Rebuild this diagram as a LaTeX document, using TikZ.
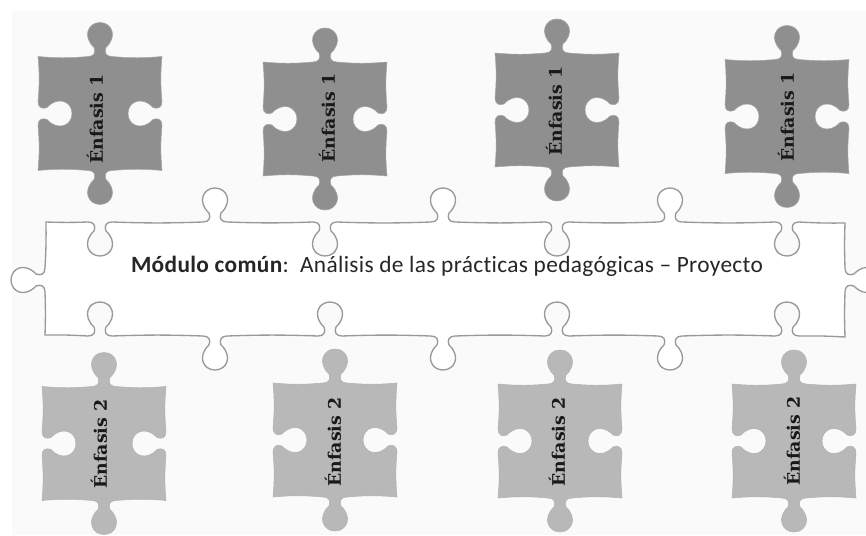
\documentclass[tikz,border=0pt]{standalone}
\usepackage{fontspec}
\setmainfont{DejaVu Serif}
\newfontfamily\calibri[Ligatures=NoCommon, LetterSpace=1.5]{Carlito}
\newcommand{\hnotch}[4]{% x, edge y, bulge, travel
  to[edge] ({#1-(#4)*12},{#2})
  .. controls ({#1-(#4)*6},{#2}) and ({#1-(#4)*4},{#2+(#3)*4}) .. ({#1-(#4)*6},{#2+(#3)*9})
  .. controls ({#1-(#4)*18},{#2+(#3)*20}) and ({#1-(#4)*12},{#2+(#3)*34}) .. ({#1},{#2+(#3)*34})
  .. controls ({#1+(#4)*12},{#2+(#3)*34}) and ({#1+(#4)*18},{#2+(#3)*20}) .. ({#1+(#4)*6},{#2+(#3)*9})
  .. controls ({#1+(#4)*4},{#2+(#3)*4}) and ({#1+(#4)*6},{#2}) .. ({#1+(#4)*12},{#2})}
\newcommand{\vnotch}[4]{% y, edge x, bulge, travel
  to[edge] ({#2},{#1-(#4)*12})
  .. controls ({#2},{#1-(#4)*6}) and ({#2+(#3)*4},{#1-(#4)*4}) .. ({#2+(#3)*9},{#1-(#4)*6})
  .. controls ({#2+(#3)*20},{#1-(#4)*18}) and ({#2+(#3)*34},{#1-(#4)*12}) .. ({#2+(#3)*34},{#1})
  .. controls ({#2+(#3)*34},{#1+(#4)*12}) and ({#2+(#3)*20},{#1+(#4)*18}) .. ({#2+(#3)*9},{#1+(#4)*6})
  .. controls ({#2+(#3)*4},{#1+(#4)*4}) and ({#2},{#1+(#4)*6}) .. ({#2},{#1+(#4)*12})}
\tikzset{
  edge/.style={bend right=5},
  strip/.style={draw=gray!80, line width=1pt, fill=white, edge/.style={bend right=2}},
  pieceA/.style={fill=gray!88, draw=gray!70},
  pieceB/.style={fill=gray!56, draw=gray!60},
  lbl/.style={rotate=90, inner sep=0pt, text=black!90, font=\bfseries\fontsize{13}{15}\selectfont},
  piece/.pic={
    \path[pic actions] (-62,-57) \hnotch{0}{-57}{-1}{1} to[edge] (62,-57)
      \vnotch{0}{62}{-1}{1} to[edge] (62,57)
      \hnotch{0}{57}{1}{-1} to[edge] (-62,57)
      \vnotch{0}{-62}{1}{-1} to[edge] cycle;
  }
}

\begin{document}
\begin{tikzpicture}[x=0.75pt, y=-0.75pt]
  \useasboundingbox (0,0) rectangle (866,535);
  \clip (0,0) rectangle (866,535);
  \fill[white] (0,0) rectangle (866,535);
  \fill[gray!4] (12,10) rectangle (866,535);
  % common module
  \draw[strip] (46,222) \hnotch{100}{222}{1}{1} \hnotch{215}{222}{-1}{1} \hnotch{325}{222}{1}{1}
    \hnotch{443}{222}{-1}{1} \hnotch{557}{222}{1}{1} \hnotch{670}{222}{-1}{1} \hnotch{787}{222}{1}{1}
    to[edge] (845,223) \vnotch{280}{845}{1}{1} to[edge] (845,337)
    \hnotch{787}{336}{-1}{-1} \hnotch{670}{336}{1}{-1} \hnotch{557}{336}{-1}{-1} \hnotch{443}{336}{1}{-1}
    \hnotch{330}{336}{-1}{-1} \hnotch{215}{336}{1}{-1} \hnotch{100}{336}{-1}{-1}
    to[edge] (45,335) \vnotch{280}{45}{-1}{-1} to[edge] cycle;
  \node[anchor=base, inner sep=0pt, text=black!85, font=\calibri\fontsize{17.5}{20}\selectfont] (M) at (447,272)
    {\textbf{Módulo común}:\ \ Análisis de las prácticas pedagógicas –\ Proyecto};
  % emphasis 1
  \pic[pieceA] at (100,113.5) {piece};
  \pic[pieceA] at (325,119) {piece};
  \pic[pieceA] at (557,110) {piece};
  \pic[pieceA] at (787,116.5) {piece};
  \node[lbl] (A1) at (95,119) {Énfasis 1};
  \node[lbl] (A2) at (327,118) {Énfasis 1};
  \node[lbl] (A3) at (554,111) {Énfasis 1};
  \node[lbl] (A4) at (786,117) {Énfasis 1};
  % emphasis 2
  \pic[pieceB] at (104,443.5) {piece};
  \pic[pieceB] at (335,440) {piece};
  \pic[pieceB] at (560,441) {piece};
  \pic[pieceB] at (794,441) {piece};
  \node[lbl] (B1) at (99,444) {Énfasis 2};
  \node[lbl] (B2) at (333,442) {Énfasis 2};
  \node[lbl] (B3) at (557,442) {Énfasis 2};
  \node[lbl] (B4) at (792,441) {Énfasis 2};
\end{tikzpicture}
\end{document}
